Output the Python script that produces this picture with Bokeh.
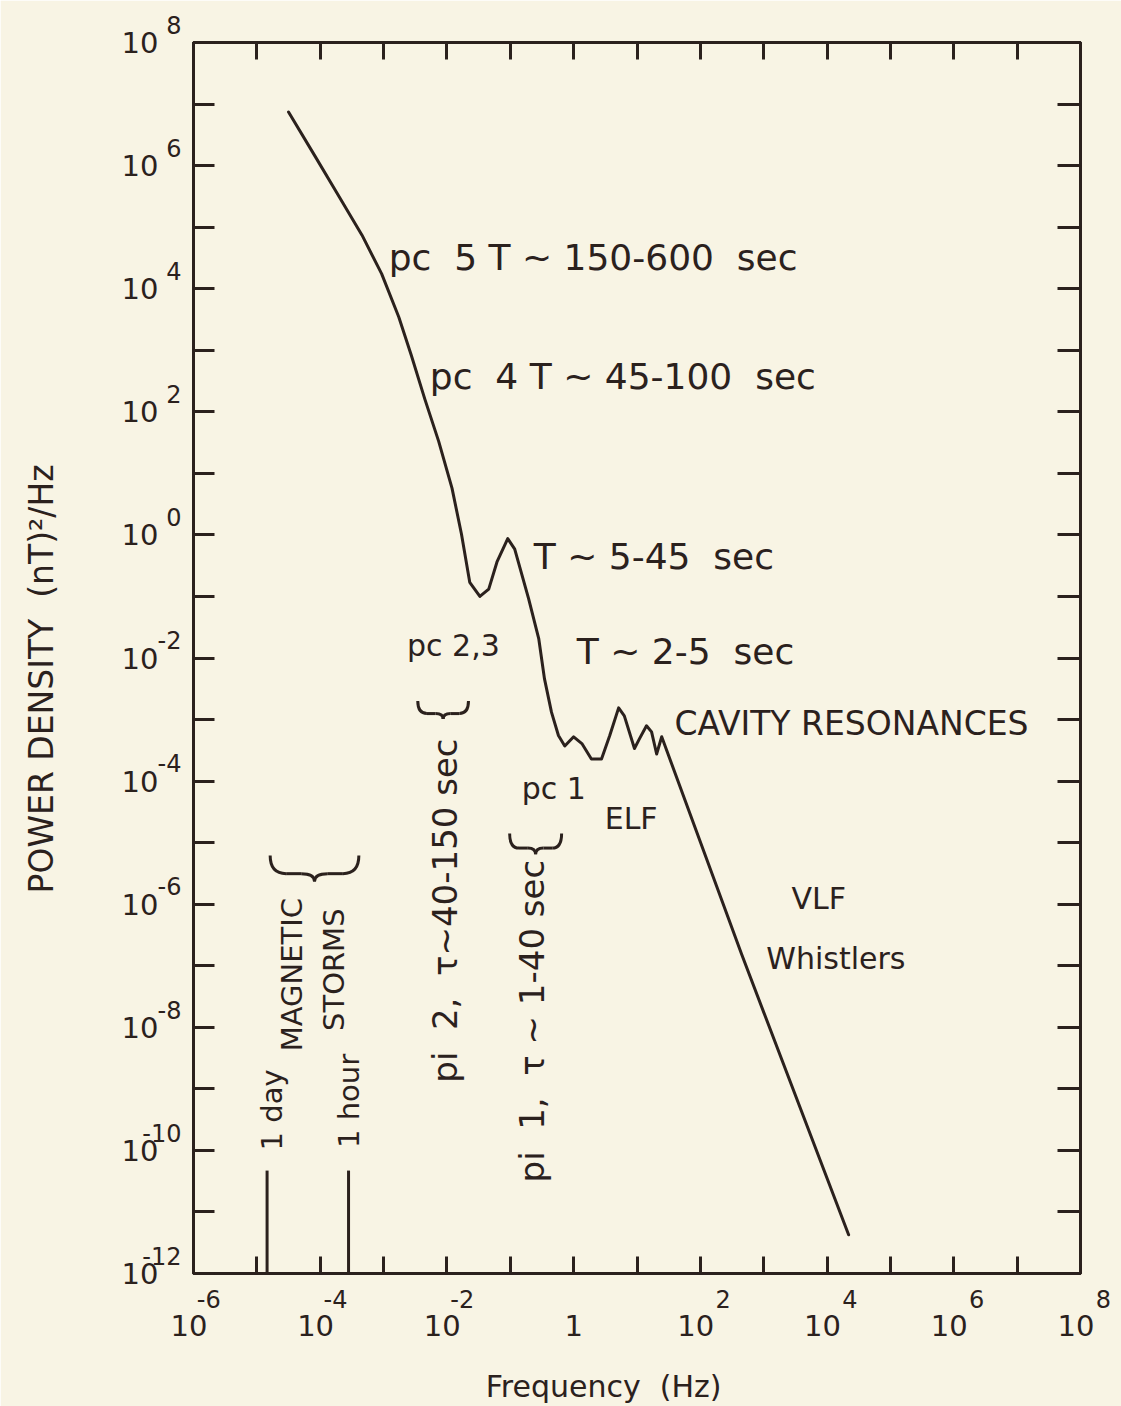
from math import pi
import math
from bokeh.plotting import figure
from bokeh.models import (LogAxis, FixedTicker, Label, Range1d, CustomJSTickFormatter)
from bokeh.embed import file_html
from bokeh.resources import INLINE

INK = "#2b211d"
PAPER = "#f8f4e4"
FONT = "DejaVu Sans"
NB = "\u00a0"

# ---------------- data (log10 values) ----------------
log_freq = [-4.50, -4.08, -3.71, -3.34, -3.03, -2.76, -2.56, -2.35, -2.13, -1.92,
            -1.77, -1.64, -1.48, -1.34, -1.21, -1.04, -0.93, -0.71, -0.55, -0.46,
            -0.35, -0.24, -0.14, 0.00, 0.13, 0.28, 0.44, 0.57, 0.71, 0.80,
            0.96, 1.04, 1.15, 1.23, 1.31, 1.39, 2.65, 4.34]
log_power = [6.87, 6.15, 5.51, 4.87, 4.24, 3.54, 2.91, 2.21, 1.52, 0.76,
             0.01, -0.77, -1.00, -0.88, -0.44, -0.06, -0.23, -1.04, -1.69, -2.34,
             -2.88, -3.26, -3.43, -3.28, -3.39, -3.64, -3.64, -3.26, -2.81, -2.94,
             -3.47, -3.31, -3.10, -3.20, -3.56, -3.28, -6.81, -11.37]
freq = [10.0 ** v for v in log_freq]
power = [10.0 ** v for v in log_power]

# period markers: 1 day, 1 hour
marker_freq = [1.45e-5, 2.8e-4]
marker_top = 4.7e-11

# braces (frequency span, end level, tip level) : magnetic storms, pi 2, pi 1
brace_lo = [10 ** -4.79, 10 ** -2.46, 10 ** -1.01]
brace_hi = [10 ** -3.39, 10 ** -1.66, 10 ** -0.19]
brace_end = [10 ** -5.21, 10 ** -2.70, 10 ** -4.85]
brace_tip = [10 ** -5.63, 10 ** -2.99, 10 ** -5.19]

x_decades = list(range(-6, 9))
y_decades = list(range(-12, 9))
xlabel_exps = [-6, -4, -2, 0, 2, 4, 6, 8]
xlabel_base = ["10", "10", "10", "1", "10", "10", "10", "10"]
ylabel_exps = [8, 6, 4, 2, 0, -2, -4, -6, -8, -10, -12]

XMIN, XMAX = 1e-6, 1e8
YMIN, YMAX = 1e-12, 1e8

# ---------------- figure ----------------
p = figure(width=1121, height=1406, x_axis_type="log", y_axis_type="log",
           x_range=Range1d(XMIN, XMAX), y_range=Range1d(YMIN, YMAX),
           output_backend="svg", toolbar_location=None,
           min_border_left=193, min_border_right=41, min_border_top=42,
           min_border_bottom=131,
           background_fill_color=PAPER, border_fill_color=PAPER)
p.grid.visible = False
p.outline_line_color = INK
p.outline_line_width = 3

xt = FixedTicker(ticks=[10.0 ** k for k in x_decades], minor_ticks=[])
yt = FixedTicker(ticks=[10.0 ** k for k in y_decades], minor_ticks=[])


def style(ax, ticker, tick_in):
    ax.ticker = ticker
    ax.major_tick_in = tick_in
    ax.major_tick_out = 0
    ax.minor_tick_line_color = None
    ax.major_tick_line_width = 3
    ax.major_tick_line_color = INK
    ax.axis_line_width = 3
    ax.axis_line_color = INK
    ax.major_label_text_font_size = "2px"
    ax.major_label_text_color = None
    ax.major_label_standoff = 0


style(p.xaxis[0], xt, 17)
style(p.yaxis[0], yt, 21)
top_axis = LogAxis()
style(top_axis, xt, 17)
p.add_layout(top_axis, "above")
right_axis = LogAxis()
style(right_axis, yt, 23)
p.add_layout(right_axis, "right")

FMT_CODE = """
const e = Math.round(Math.log10(tick));
const i = exps.indexOf(e);
return i >= 0 ? labs[i] : "";
"""


def label_axis(side, exps, labels, size, standoff, **kw):
    ax = LogAxis(ticker=FixedTicker(ticks=[10.0 ** e for e in exps], minor_ticks=[]),
                 formatter=CustomJSTickFormatter(args=dict(exps=list(exps), labs=list(labels)),
                                                 code=FMT_CODE),
                 major_tick_line_color=None, minor_tick_line_color=None,
                 axis_line_color=None, major_tick_in=0, major_tick_out=0,
                 major_label_standoff=standoff, major_label_text_font=FONT,
                 major_label_text_font_size=f"{size}px", major_label_text_color=INK, **kw)
    p.add_layout(ax, side)
    return ax


# x tick labels: exponent row (closest to the frame) then the "10" row
x_exp_vals = [e for e in xlabel_exps if e != 0]
x_exp_text = [(NB * 4 + str(e)) if e < 0 else (NB * 6 + str(e)) for e in x_exp_vals]
label_axis("below", x_exp_vals, x_exp_text, 24, 12)
xbase_ax = label_axis("below", xlabel_exps, [b + NB if b == "10" else b for b in xlabel_base], 29, -8)
xbase_ax.axis_label = "Frequency" + NB + " (Hz)" + NB * 7
xbase_ax.axis_label_standoff = 23
xbase_ax.axis_label_text_font = FONT
xbase_ax.axis_label_text_font_size = "30px"
xbase_ax.axis_label_text_font_style = "normal"
xbase_ax.axis_label_text_color = INK

# y tick labels: exponent column (raised by an empty second line) then the "10" column
label_axis("left", ylabel_exps, [str(e) + "\n" + NB for e in ylabel_exps], 24, 12)
ybase_ax = label_axis("left", ylabel_exps, ["10"] * len(ylabel_exps), 29, -19)
ybase_ax.axis_label = "POWER DENSITY" + NB + " (nT)²/Hz" + NB * 4
ybase_ax.axis_label_standoff = 58
ybase_ax.axis_label_text_font = FONT
ybase_ax.axis_label_text_font_size = "33px"
ybase_ax.axis_label_text_font_style = "normal"
ybase_ax.axis_label_text_color = INK

# ---------------- spectrum ----------------
p.line(freq, power, line_width=3, color=INK, line_join="round", line_cap="round")

# markers
p.segment(x0=marker_freq, y0=[YMIN] * len(marker_freq), x1=marker_freq,
          y1=[marker_top] * len(marker_freq), line_width=3, color=INK)

# braces built from quadratic curves in log space
qx0, qy0, qx1, qy1, qcx, qcy = [], [], [], [], [], []
sx0, sy0, sx1, sy1 = [], [], [], []
for lo, hi, e, t in zip(brace_lo, brace_hi, brace_end, brace_tip):
    a, b = math.log10(lo), math.log10(hi)
    ye, yb = math.log10(e), math.log10(t)
    xm = (a + b) / 2
    w = b - a
    ym = ye - 0.7 * (ye - yb)
    segs = [((a, ye), (a, ym), (a + 0.18 * w, ym)),
            ((xm - 0.15 * w, ym), (xm, ym), (xm, yb)),
            ((xm, yb), (xm, ym), (xm + 0.15 * w, ym)),
            ((b - 0.18 * w, ym), (b, ym), (b, ye))]
    for s, c, f in segs:
        qx0.append(10 ** s[0]); qy0.append(10 ** s[1])
        qcx.append(10 ** c[0]); qcy.append(10 ** c[1])
        qx1.append(10 ** f[0]); qy1.append(10 ** f[1])
    for s, f in [((a + 0.18 * w, ym), (xm - 0.15 * w, ym)),
                 ((xm + 0.15 * w, ym), (b - 0.18 * w, ym))]:
        sx0.append(10 ** s[0]); sy0.append(10 ** s[1])
        sx1.append(10 ** f[0]); sy1.append(10 ** f[1])
p.quadratic(x0=qx0, y0=qy0, x1=qx1, y1=qy1, cx=qcx, cy=qcy, line_width=3, color=INK)
p.segment(x0=sx0, y0=sy0, x1=sx1, y1=sy1, line_width=3, color=INK)


# ---------------- annotations ----------------
def note(lx, ly, text, size, angle=0.0, align="left"):
    p.add_layout(Label(x=10 ** lx, y=10 ** ly, text=text, text_font=FONT,
                       text_font_size=f"{size}px", text_color=INK, angle=angle,
                       text_align=align, text_baseline="middle"))


note(-2.92, 4.50, "pc" + NB + " 5 T ~ 150-600" + NB + " sec", 36)
note(-2.27, 2.57, "pc" + NB + " 4 T ~ 45-100" + NB + " sec", 36)
note(-0.63, -0.35, "T ~ 5-45" + NB + " sec", 36)
note(-2.63, -1.79, "pc 2,3", 30)
note(0.05, -1.89, "T ~ 2-5" + NB + " sec", 36)
note(1.59, -3.07, "CAVITY RESONANCES", 33)
note(-0.82, -4.12, "pc 1", 30)
note(0.49, -4.61, "ELF", 30)
note(3.44, -5.91, "VLF", 30)
note(3.04, -6.88, "Whistlers", 30)

note(-2.03, -8.90, "pi" + NB + " 2," + NB + " τ~40-150 sec", 34, angle=pi / 2)
note(-0.66, -10.52, "pi" + NB + " 1," + NB + " τ" + NB + "~" + NB + "1-40 sec", 34, angle=pi / 2)
note(-4.76, -10.0, "1 day", 29, angle=pi / 2)
note(-4.45, -8.39, "MAGNETIC", 29, angle=pi / 2)
note(-3.79, -8.06, "STORMS", 29, angle=pi / 2)
note(-3.55, -9.96, "1 hour", 29, angle=pi / 2)

open("out.html", "w").write(file_html(p, INLINE))
